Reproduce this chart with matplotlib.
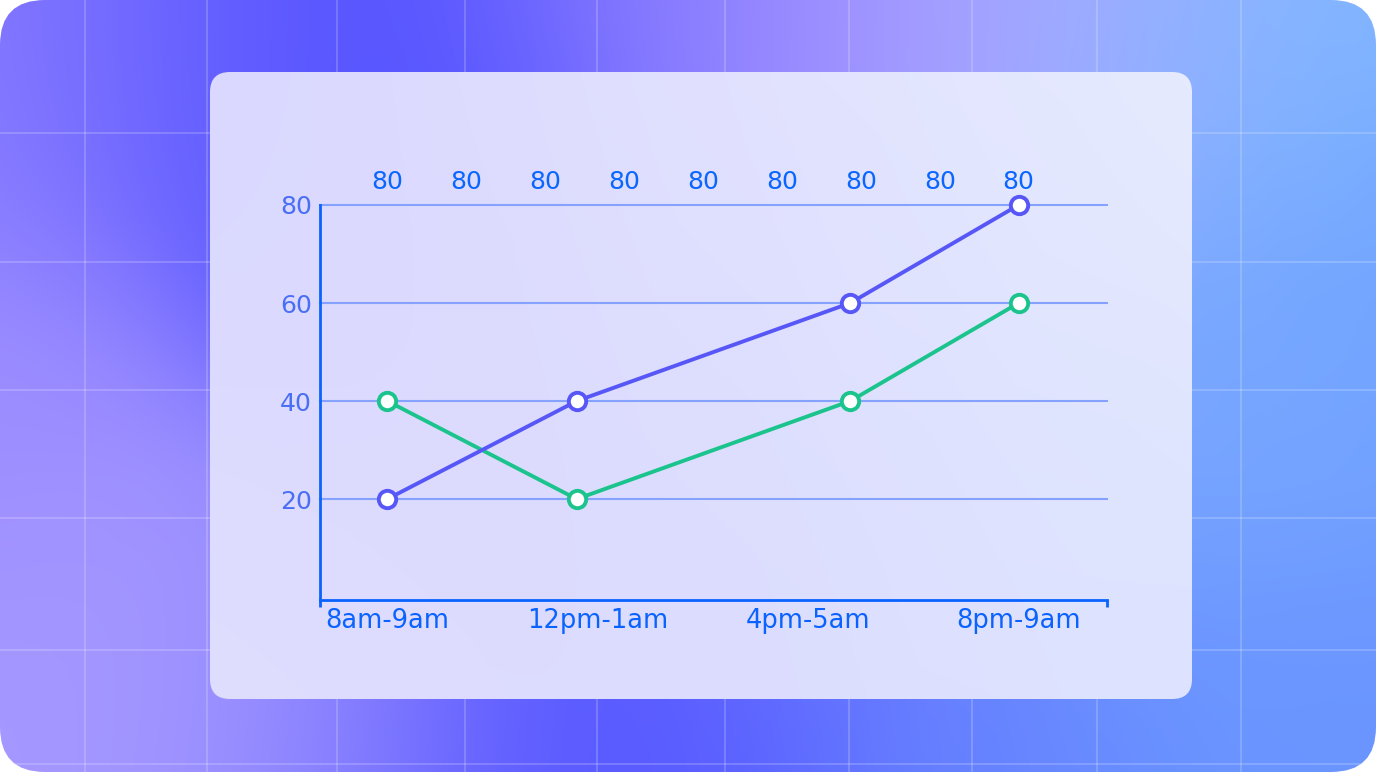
import numpy as np
import matplotlib
matplotlib.use("Agg")
import matplotlib.pyplot as plt
from matplotlib.patches import FancyBboxPatch
from matplotlib.colors import to_rgb
import matplotlib.transforms as mtransforms

# ---------------------------------------------------------------
# data
# ---------------------------------------------------------------
categories = ["8am-9am", "12pm-1am", "4pm-5am", "8pm-9am"]
cat_pos = [0, 1, 2, 3]

blue_x = [0.0, 0.9, 2.2, 3.0]
blue_y = [20, 40, 60, 80]
green_x = [0.0, 0.9, 2.2, 3.0]
green_y = [40, 20, 40, 60]

top_label_x = [0.0, 0.375, 0.75, 1.125, 1.5, 1.875, 2.25, 2.625, 3.0]
top_label_text = ["80"] * 9

y_ticks = [20, 40, 60, 80]

W, H = 1376, 772
BLUE = "#5757f7"
GREEN = "#1bc48c"
AXIS = "#0a62ff"
GRID = "#86a2ff"

plt.rcParams['font.family'] = ['DejaVu Sans']


def blend(anchors, xs, ys, sigma):
    """soft blend of colour anchors (gaussian weights)"""
    acc = np.zeros(xs.shape + (3,))
    wsum = np.zeros(xs.shape)
    for ax_, ay_, c in anchors:
        w = np.exp(-((xs - ax_) ** 2 + (ys - ay_) ** 2) / (2 * sigma ** 2)) + 1e-12
        acc += w[..., None] * np.array(to_rgb(c))
        wsum += w
    return acc / wsum[..., None]


fig = plt.figure(figsize=(W / 100, H / 100), dpi=100)
fig.patch.set_facecolor("white")

# ---------------------------------------------------------------
# background card with gradient and grid
# ---------------------------------------------------------------
bg = fig.add_axes([0, 0, 1, 1])
bg.set_xlim(0, W)
bg.set_ylim(H, 0)
bg.axis("off")

yy, xx = np.mgrid[0:H:4, 0:W:4]
bg_anchors = [
    (0, 60, "#8d80ff"), (0, 400, "#9d8eff"), (60, 720, "#a798ff"),
    (200, 700, "#a59aff"), (180, 60, "#6a62ff"), (330, 40, "#5050ff"),
    (400, 200, "#5454ff"), (500, 740, "#5050ff"), (330, 740, "#8c84ff"),
    (650, 10, "#7a70ff"), (800, 20, "#a08cff"), (950, 30, "#aea4ff"),
    (1100, 30, "#9cb0ff"), (1270, 60, "#7eb8ff"), (1370, 300, "#6fa2ff"),
    (1300, 700, "#6a95ff"), (950, 740, "#6786ff"), (700, 740, "#5a5cff"),
    (1200, 400, "#7aa8ff"), (800, 400, "#8a8cff"),
]
bg_img = blend(bg_anchors, xx, yy, 140)
card = FancyBboxPatch((0, 0), W, H, boxstyle="round,pad=0,rounding_size=45",
                      transform=bg.transData, facecolor="none", edgecolor="none")
bg.add_patch(card)
im = bg.imshow(bg_img, extent=(0, W, H, 0), interpolation="bilinear", zorder=0)
im.set_clip_path(card)

grid_x = [85, 207, 337, 465, 597, 725, 849, 972, 1097, 1241]
grid_y = [133, 262, 390, 518, 650, 764]
for gx in grid_x:
    ln, = bg.plot([gx, gx], [0, H], color="white", alpha=0.22, lw=1.2, zorder=1)
    ln.set_clip_path(card)
for gy in grid_y:
    ln, = bg.plot([0, W], [gy, gy], color="white", alpha=0.22, lw=1.2, zorder=1)
    ln.set_clip_path(card)

# inner panel
px0, py0, pw, ph = 210, 72, 982, 627
panel = FancyBboxPatch((px0, py0), pw, ph, boxstyle="round,pad=0,rounding_size=20",
                       transform=bg.transData, facecolor="none", edgecolor="none")
bg.add_patch(panel)
panel_anchors = [
    (210, 72, "#d8d6fe"), (700, 72, "#e4e2ff"), (1192, 72, "#e9efff"),
    (210, 699, "#e2e0ff"), (700, 699, "#dcdbfe"), (1192, 699, "#dce4ff"),
    (500, 400, "#d9d8fe"), (1000, 350, "#dfe4ff"),
]
panel_img = blend(panel_anchors, xx, yy, 260)
pim = bg.imshow(panel_img, extent=(0, W, H, 0), interpolation="bilinear", zorder=2)
pim.set_clip_path(panel)
bg.set_xlim(0, W)
bg.set_ylim(H, 0)

# ---------------------------------------------------------------
# chart
# ---------------------------------------------------------------
left, right, top, bottom = 320, 1107, 205, 600
ax = fig.add_axes([left / W, 1 - bottom / H, (right - left) / W, (bottom - top) / H])
ax.set_facecolor("none")
ax.set_xlim(-0.32, 3.42)
ax.set_ylim(-0.6, 80)

for s in ["top", "right"]:
    ax.spines[s].set_visible(False)
for s in ["left", "bottom"]:
    ax.spines[s].set_color(AXIS)
    ax.spines[s].set_linewidth(2)

ax.set_yticks(y_ticks)
ax.set_yticklabels([str(v) for v in y_ticks])
ax.tick_params(axis="y", length=0, pad=6, labelsize=18, labelcolor="#4a6ff5")
ax.set_xticks(cat_pos)
ax.set_xticklabels(categories)
ax.tick_params(axis="x", which="major", length=0, pad=6, labelsize=18.5, labelcolor=AXIS)
ax.set_xticks([-0.32, 3.42], minor=True)
ax.tick_params(axis="x", which="minor", length=5, width=2, color=AXIS)

for yv in y_ticks:
    ax.axhline(yv, color=GRID, lw=1.5, zorder=1, clip_on=False)

ax.plot(green_x, green_y, color=GREEN, lw=2.8, marker="o", ms=12.5,
        markerfacecolor="white", markeredgecolor=GREEN, markeredgewidth=2.8,
        zorder=3, clip_on=False)
ax.plot(blue_x, blue_y, color=BLUE, lw=2.8, marker="o", ms=12.5,
        markerfacecolor="white", markeredgecolor=BLUE, markeredgewidth=2.8,
        zorder=4, clip_on=False)

# row of value labels above the plot
trans = mtransforms.blended_transform_factory(ax.transData, ax.transAxes)
lift = mtransforms.ScaledTranslation(0, 11 / 100, fig.dpi_scale_trans)
for tx, tt in zip(top_label_x, top_label_text):
    ax.text(tx, 1.0, tt, transform=trans + lift, ha="center", va="bottom",
            fontsize=18, color="#0a66ff")

fig.savefig("out.png", dpi=100)
